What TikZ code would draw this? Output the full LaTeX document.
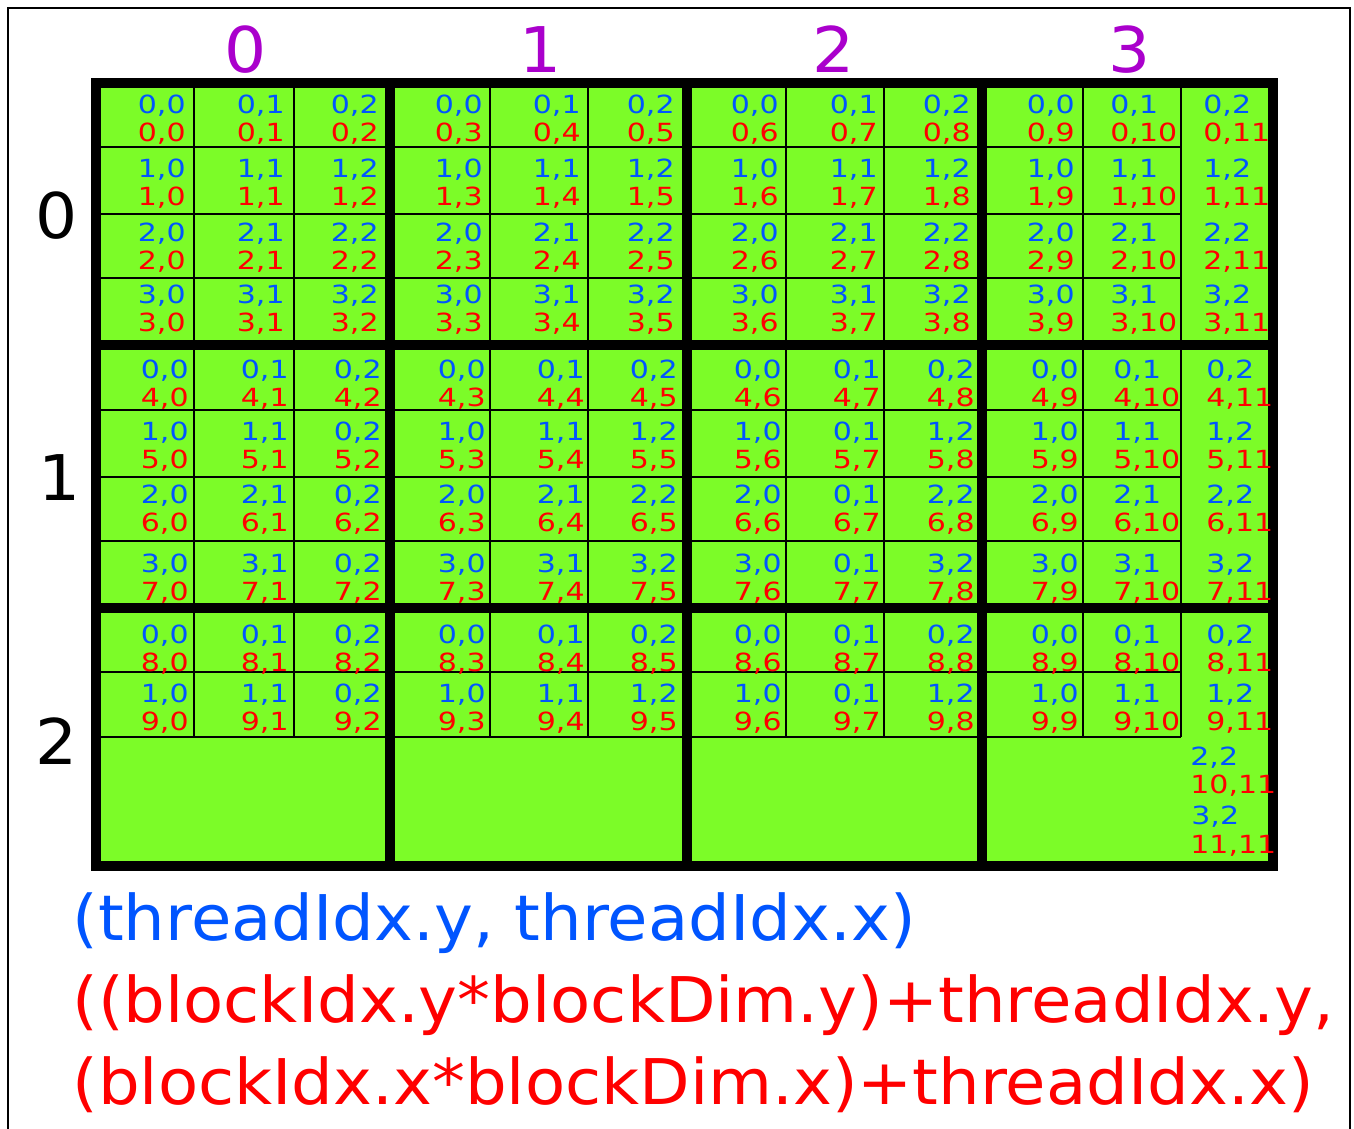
\documentclass[tikz,border=0pt]{standalone}
\usepackage{fontspec}
\setmainfont{DejaVu Sans}
\newfontfamily\cellfont[FakeStretch=1.2]{DejaVu Sans}
\newfontfamily\labelfont[FakeStretch=1.05]{DejaVu Sans}
\newfontfamily\legendfont[FakeStretch=1.043]{DejaVu Sans}
\usepackage{tikz}
\usetikzlibrary{positioning}
\definecolor{cellgreen}{RGB}{124,252,40}
\definecolor{idxblue}{RGB}{0,85,255}
\definecolor{idxred}{RGB}{255,0,0}
\definecolor{blkpurple}{RGB}{170,0,204}

\begin{document}
\begin{tikzpicture}[x=0.5pt, y=-0.5pt]
	\tikzstyle{thinline} = [draw, line width=1pt]
	\tikzstyle{blockline} = [draw, line width=5pt]
	\tikzstyle{tid} = [inner sep=0pt, text=idxblue, font={\cellfont\fontsize{12.5}{14}\selectfont}]
	\tikzstyle{gid} = [inner sep=0pt, text=idxred, font={\cellfont\fontsize{12.5}{14}\selectfont}]
	\tikzstyle{hdr} = [inner sep=0pt, anchor=base, font={\labelfont\fontsize{31.5}{36}\selectfont}]
	\tikzstyle{legendtext} = [inner sep=0pt, anchor=base west, font={\legendfont\fontsize{31.5}{36}\selectfont}]

	\useasboundingbox (0,0) rectangle (1354,1129);
	\draw[line width=1pt] (8,1129) -- (8,8) -- (1350,8) -- (1350,1129);

	% grid of blocks
	\fill[cellgreen] (96,83) rectangle (1273,866);
	\foreach \x in {194,294,490,588,786,884,1083,1181}
		\draw[thinline] (\x,83) -- (\x,737);
	\foreach \y in {147,214,278,410,477,541,672,737}
		\draw[thinline] (96,\y) -- (1181,\y);
	\foreach \x in {390,687,982}
		\draw[blockline] (\x,83) -- (\x,866);
	\foreach \y in {345,608}
		\draw[blockline] (96,\y) -- (1273,\y);
	\draw[blockline] (96,83) rectangle (1273,866);

	% thread and global indices
	\foreach \R/\i/\yb in {0/0/113,0/1/177,0/2/241,0/3/303,1/0/378,1/1/440,1/2/503,1/3/572,2/0/643,2/1/702}
		\foreach \c/\xa/\xb/\anc/\q in {0/186/189/base east/0, 1/285/289/base east/0, 2/379/382/base east/1,
				3/483/486/base east/0, 4/581/585/base east/0, 5/675/678/base east/0,
				6/779/782/base east/0, 7/878/881/base east/1, 8/971/975/base east/0,
				9/1075/1079/base east/0, 10/1110/1113/base west/0, 11/1203/1206/base west/0}
		{
			\pgfmathtruncatemacro\gr{4*\R+\i}
			\pgfmathtruncatemacro\j{mod(\c,3)}
			\pgfmathtruncatemacro\bi{\i*(1-\q*(\R>0))}
			\pgfmathsetmacro\xx{\R==0 ? \xa : \xb}
			\node[tid, anchor=\anc] (b-\gr-\c) at (\xx,\yb) {\bi,\j};
			\node[gid, anchor=\anc] (g-\gr-\c) at (\xx,\yb+28.5) {\gr,\c};
		}
	\node[tid, anchor=base west] (b-10-11) at (1190,765) {2,2};
	\node[gid, anchor=base west] (g-10-11) at (1190,793) {10,11};
	\node[tid, anchor=base west] (b-11-11) at (1191,824) {3,2};
	\node[gid, anchor=base west] (g-11-11) at (1190,853) {11,11};

	% block indices
	\node[hdr, text=blkpurple] (bx0) at (246,73) {0};
	\node[hdr, text=blkpurple] (bx1) at (541,73) {1};
	\node[hdr, text=blkpurple] (bx2) at (834,73) {2};
	\node[hdr, text=blkpurple] (bx3) at (1130,73) {3};
	\node[hdr] (by0) at (57,238) {0};
	\node[hdr] (by1) at (60,500) {1};
	\node[hdr] (by2) at (57,764) {2};

	% legend
	\node[legendtext, text=idxblue] (cap1) at (72,940) {(threadIdx.y, threadIdx.x)};
	\node[legendtext, text=idxred] (cap2) at (72,1022) {((blockIdx.y*blockDim.y)+threadIdx.y,};
	\node[legendtext, text=idxred] (cap3) at (72,1104) {(blockIdx.x*blockDim.x)+threadIdx.x)};
\end{tikzpicture}
\end{document}
